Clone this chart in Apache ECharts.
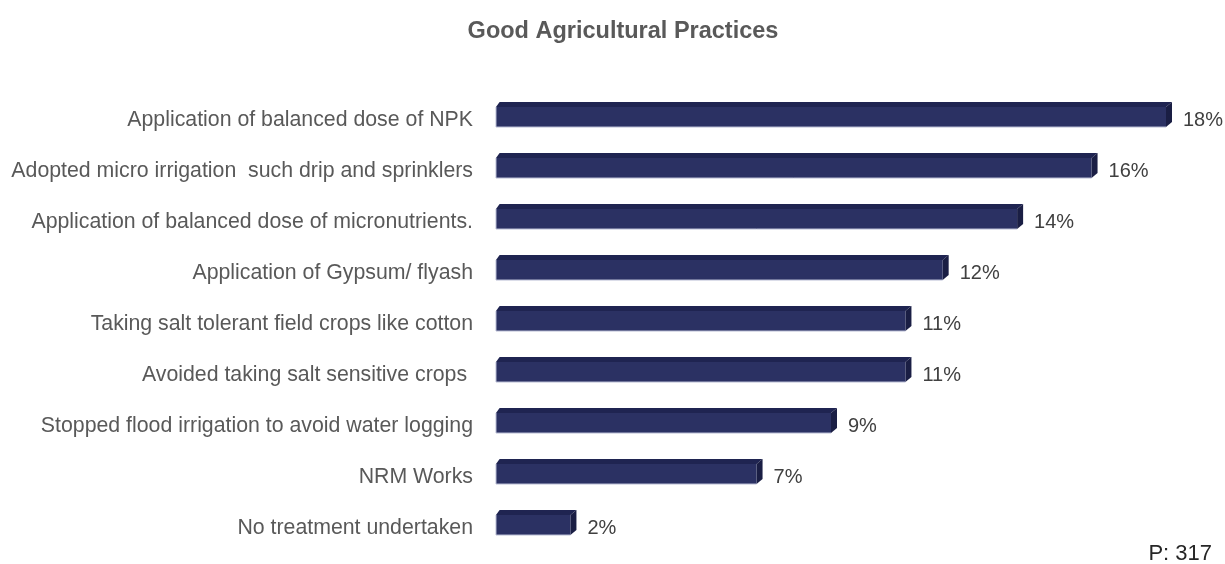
<!DOCTYPE html>
<html>
<head>
<meta charset="utf-8">
<title>Good Agricultural Practices</title>
<script src="https://cdn.jsdelivr.net/npm/echarts@6/dist/echarts.min.js"></script>
<style>
  html, body { margin: 0; padding: 0; background: #ffffff; }
  #chart { width: 1225px; height: 564px; }
</style>
</head>
<body>
<div id="chart"></div>
<script>
// Practices, listed top to bottom
const categories = [
  'Application of balanced dose of NPK',
  'Adopted micro irrigation  such drip and sprinklers',
  'Application of balanced dose of micronutrients.',
  'Application of Gypsum/ flyash',
  'Taking salt tolerant field crops like cotton',
  'Avoided taking salt sensitive crops ',
  'Stopped flood irrigation to avoid water logging',
  'NRM Works',
  'No treatment undertaken'
];
// Share of respondents (%)
const shares = [18, 16, 14, 12, 11, 11, 9, 7, 2];
const baseLabel = 'P: 317';

const FONT = '"Liberation Sans", Arial, sans-serif';
const FRONT = '#2b3163';
const TOP = '#1f2451';
const SIDE = '#1a1e44';

const chart = echarts.init(document.getElementById('chart'), null, { renderer: 'canvas' });

const seriesData = shares.map((v, i) => [v, i]);

// 3D-looking bar: front face, top face and right face
function renderBar(params, api) {
  const val = api.value(0);
  const cat = api.value(1);
  const start = api.coord([0, cat]);
  const end = api.coord([val, cat]);
  const h = 20;
  const dx = 6, dy = -5;
  const cy = start[1] - 3;
  const x0 = start[0], x1 = end[0];
  const yt = cy - h / 2, yb = cy + h / 2;
  return {
    type: 'group',
    children: [
      {
        type: 'polygon',
        shape: { points: [[x0, yt], [x0 + dx * 0.6, yt + dy], [x1 + dx, yt + dy], [x1, yt]] },
        style: { fill: TOP }
      },
      {
        type: 'polygon',
        shape: { points: [[x1, yt], [x1 + dx, yt + dy], [x1 + dx, yb + dy], [x1, yb]] },
        style: { fill: SIDE }
      },
      {
        type: 'rect',
        shape: { x: x0, y: yt, width: x1 - x0, height: h },
        style: { fill: FRONT }
      },
      {
        type: 'polyline',
        shape: { points: [[x0, yt], [x0, yb], [x1, yb]] },
        style: { stroke: '#b8bcd4', lineWidth: 1, fill: null }
      },
      {
        type: 'text',
        style: {
          text: val + '%',
          x: x1 + dx + 11,
          y: cy + 3,
          verticalAlign: 'middle',
          align: 'left',
          fill: '#404040',
          font: '20px ' + FONT
        }
      }
    ]
  };
}

chart.setOption({
  backgroundColor: '#ffffff',
  animation: false,
  title: {
    text: 'Good Agricultural Practices',
    left: 618,
    top: 15,
    textAlign: 'center',
    textStyle: { fontFamily: FONT, fontSize: 23.5, fontWeight: 'bold', color: '#595959' }
  },
  grid: { left: 496, right: 59, top: 94.5, bottom: 10.5, containLabel: false },
  xAxis: {
    type: 'value',
    min: 0,
    max: 18,
    show: false
  },
  yAxis: {
    type: 'category',
    data: categories,
    inverse: true,
    axisLine: { show: false },
    axisTick: { show: false },
    splitLine: { show: false },
    axisLabel: {
      margin: 23,
      fontFamily: FONT,
      fontSize: 21.3,
      color: '#595959'
    }
  },
  series: [{
    type: 'custom',
    renderItem: renderBar,
    encode: { x: 0, y: 1 },
    data: seriesData,
    clip: false
  }],
  graphic: [{
    type: 'text',
    right: 13,
    top: 543,
    style: {
      text: baseLabel,
      fill: '#262626',
      font: '22px ' + FONT
    }
  }]
});
</script>
</body>
</html>
